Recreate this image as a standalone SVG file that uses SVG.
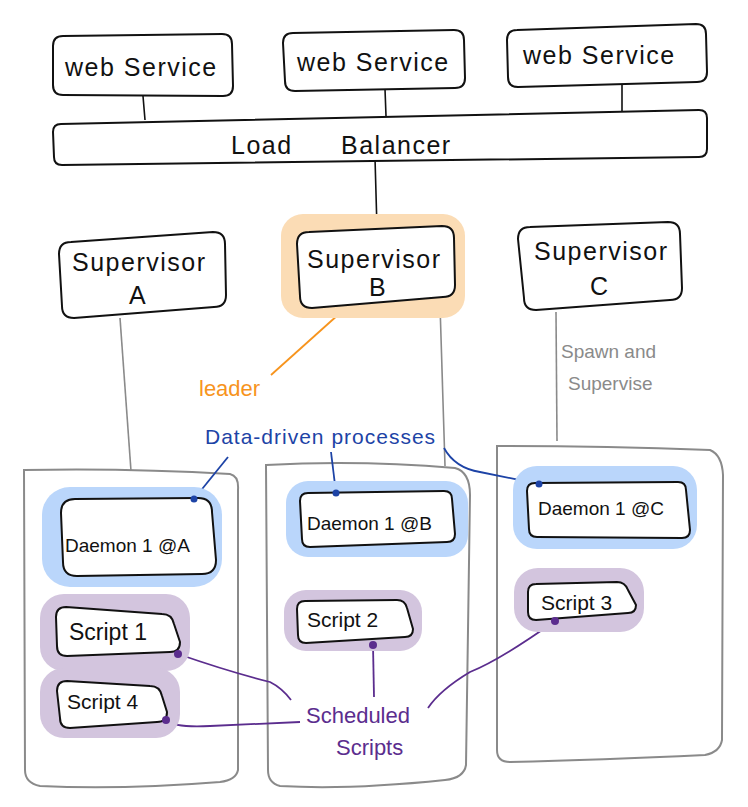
<svg xmlns="http://www.w3.org/2000/svg" width="748" height="807" viewBox="0 0 748 807">
<style>
.box{fill:#fff;stroke:#111;stroke-width:2;stroke-linejoin:round}
.cont{fill:none;stroke:#8a8a8a;stroke-width:2}
.t{font-family:"Liberation Sans","DejaVu Sans",sans-serif;fill:#111}
.big{font-size:25px;letter-spacing:1.5px}
.mid{font-size:19px}
.sc{font-size:21px}
.gl{stroke:#8a8a8a;stroke-width:1.6;fill:none}
.bl{stroke:#1d43a6;stroke-width:1.8;fill:none}
.pl{stroke:#5b2d8e;stroke-width:1.8;fill:none}
.ol{stroke:#f7941d;stroke-width:1.8;fill:none}
.hb{fill:#bad6fb}
.hp{fill:#d3c5de}
.ho{fill:#fbdcb5}
</style>
<rect width="748" height="807" fill="#fff"/>

<g id="containers">
<path class="cont" d="M24,470 Q130,468 230,474 Q239,476 238,490 L238,770 Q236,780 220,782 Q120,790 40,786 Q25,783 25,770 Z"/>
<path class="cont" d="M266,465 Q360,460 455,468 Q470,472 470,495 L466,765 Q464,778 445,780 Q350,790 280,786 Q268,783 268,770 Z"/>
<path class="cont" d="M497,446 Q600,446 710,450 Q722,455 723,475 L722,740 Q720,752 705,755 Q600,760 510,762 Q497,762 497,750 Z"/>
</g>

<g id="connectors">
<path class="gl" d="M120,318 L131,471"/>
<path class="gl" d="M440,305 L445,466"/>
<path class="gl" d="M556,312 L557,441"/>
<path stroke="#111" stroke-width="1.6" d="M143,96 L145,120 M385,89 L386,116 M622,82 L622,112 M375,158 L377,229" fill="none"/>
<path class="ol" d="M339,314 L271,375"/>
<circle cx="339" cy="314" r="4" fill="#f7941d"/>
<path class="bl" d="M194,499 L228,457"/>
<path class="bl" d="M331,452 L336,493"/>
<path class="bl" d="M444,448 Q455,468 480,472 L539,484"/>
<path class="pl" d="M178,654 Q230,672 270,682 Q282,688 291,700"/>
<path class="pl" d="M166,720 Q175,728 210,726 L300,722"/>
<path class="pl" d="M373,645 L374,697"/>
<path class="pl" d="M555,621 Q500,660 470,672 Q440,690 428,708"/>
</g>

<g id="ws1"><path class="box" d="M53,46 Q53,36 63,36 L222,34 Q232,34 232,44 L233,86 Q233,96 223,96 L63,95 Q53,95 53,85 Z"/><text class="t big" x="65" y="76">web Service</text></g>
<g id="ws2"><path class="box" d="M283,43 Q283,33 293,33 L454,30 Q464,30 464,40 L465,78 Q465,88 455,88 L295,91 Q285,91 285,81 Z"/><text class="t big" x="297" y="71">web Service</text></g>
<g id="ws3"><path class="box" d="M507,40 Q507,30 517,30 L696,24 Q706,24 706,34 L707,72 Q707,82 697,82 L518,87 Q508,87 508,77 Z"/><text class="t big" x="523" y="64">web Service</text></g>

<g id="lb"><path class="box" d="M53,132 Q53,124 61,124 L699,110 Q707,110 707,118 L707,149 Q707,157 699,157 L62,165 Q54,165 54,157 Z"/><text class="t big" x="231" y="154">Load</text><text class="t big" x="341" y="154">Balancer</text></g>

<g id="supA"><path class="box" d="M59,254 Q59,242 71,242 L213,232 Q225,232 225,244 L226,295 Q226,307 214,307 L74,318 Q62,318 62,306 Z"/><text class="t big" x="72" y="271">Supervisor</text><text class="t big" x="129" y="304">A</text></g>

<g id="supB"><rect class="ho" x="281" y="214" width="184" height="104" rx="22"/><path class="box" d="M297,244 Q297,232 309,232 L442,226 Q454,226 454,238 L455,285 Q455,297 443,297 L312,308 Q300,308 300,296 Z"/><text class="t big" x="307" y="268">Supervisor</text><text class="t big" x="369" y="296">B</text></g>

<g id="supC"><path class="box" d="M518,239 Q518,227 530,227 L668,222 Q680,222 680,234 L682,288 Q682,300 670,300 L536,310 Q524,310 524,298 Z"/><text class="t big" x="534" y="260">Supervisor</text><text class="t big" x="590" y="295">C</text></g>

<text class="t mid" x="561" y="358" style="fill:#8a8a8a">Spawn and</text>
<text class="t mid" x="568" y="390" style="fill:#8a8a8a">Supervise</text>
<text class="t" x="199" y="396" style="fill:#f7941d;font-size:22px">leader</text>
<text class="t" x="205" y="444" style="fill:#1d43a6;font-size:21px;letter-spacing:1px">Data-driven processes</text>

<g id="daemonA"><rect class="hb" x="42" y="487" width="180" height="100" rx="28"/><path class="box" d="M61,513 Q61,499 75,499 L198,498 Q212,498 212,512 L216,560 Q216,574 202,574 L77,576 Q63,576 63,562 Z"/><text class="t mid" x="65" y="552">Daemon 1 @A</text></g>

<g id="daemonB"><rect class="hb" x="286" y="481" width="182" height="76" rx="22"/><path class="box" d="M300,501 Q300,493 308,493 L444,491 Q452,491 452,499 L455,534 Q455,542 447,542 L310,547 Q302,547 302,539 Z"/><text class="t mid" x="307" y="530">Daemon 1 @B</text></g>

<g id="daemonC"><rect class="hb" x="513" y="466" width="184" height="83" rx="24"/><path class="box" d="M527,491 Q527,483 535,483 L678,482 Q686,482 686,490 L690,530 Q690,538 682,538 L537,537 Q529,537 529,529 Z"/><text class="t mid" x="538" y="515">Daemon 1 @C</text></g>

<g id="script1"><rect class="hp" x="40" y="594" width="150" height="77" rx="24"/><path class="box" d="M56,617 Q56,607 66,607 L162,614 Q172,614 174,624 L180,642 Q180,652 170,652 L67,656 Q57,656 57,646 Z"/><text class="t" x="69" y="640" style="font-size:23px">Script 1</text></g>

<g id="script4"><rect class="hp" x="40" y="668" width="140" height="70" rx="24"/><path class="box" d="M57,691 Q57,681 67,681 L150,686 Q160,686 162,696 L167,712 Q167,722 157,722 L70,728 Q60,728 60,718 Z"/><text class="t sc" x="67" y="709">Script 4</text></g>

<g id="script2"><rect class="hp" x="284" y="590" width="138" height="61" rx="22"/><path class="box" d="M297,609 Q297,601 305,601 L397,600 Q405,600 407,608 L413,629 Q413,637 405,637 L306,643 Q298,643 298,635 Z"/><text class="t sc" x="307" y="627">Script 2</text></g>

<g id="script3"><rect class="hp" x="514" y="568" width="130" height="64" rx="24"/><path class="box" d="M528,592 Q528,584 536,584 L617,582 Q625,582 628,590 L636,605 Q636,613 628,613 L536,620 Q528,620 528,612 Z"/><text class="t sc" x="541" y="610">Script 3</text></g>

<g id="schedLabel"><text class="t" x="306" y="723" style="fill:#5b2d8e;font-size:22px">Scheduled</text><text class="t" x="336" y="755" style="fill:#5b2d8e;font-size:22px">Scripts</text></g>

<g id="dots">
<circle cx="194" cy="499" r="3.5" fill="#1d43a6"/>
<circle cx="336" cy="493" r="3.5" fill="#1d43a6"/>
<circle cx="539" cy="484" r="3.5" fill="#1d43a6"/>
<circle cx="178" cy="654" r="4" fill="#5b2d8e"/>
<circle cx="166" cy="720" r="4" fill="#5b2d8e"/>
<circle cx="373" cy="645" r="4" fill="#5b2d8e"/>
<circle cx="555" cy="621" r="4" fill="#5b2d8e"/>
</g>
</svg>
